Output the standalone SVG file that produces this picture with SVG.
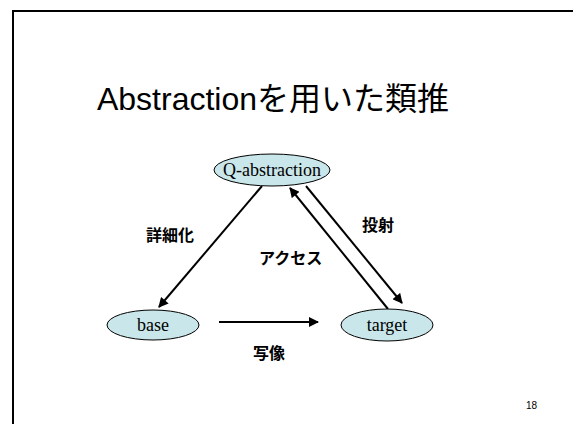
<svg xmlns="http://www.w3.org/2000/svg" width="573" height="424" viewBox="0 0 573 424">
<style>
.node ellipse{fill:#c9e6ea;stroke:#000;stroke-width:1}
.node text{font-family:"Liberation Serif","Noto Serif CJK JP",serif;font-size:18px;text-anchor:middle;fill:#000}
.edge line{stroke:#000;stroke-width:2;marker-end:url(#ah)}
.lbl{font-family:"Liberation Sans","Noto Sans CJK JP",sans-serif;font-size:16px;font-weight:bold;fill:#000}
</style>
<defs>
<marker id="ah" viewBox="0 0 10 10" refX="9" refY="5" markerWidth="5.5" markerHeight="5" orient="auto" markerUnits="strokeWidth">
<path d="M0,0 L10,5 L0,10 z" fill="#000"/>
</marker>
</defs>
<rect x="0" y="0" width="573" height="424" fill="#fff"/>
<path d="M13,424 V11 H573" fill="none" stroke="#000" stroke-width="2"/>
<text x="273" y="110" font-family="'Liberation Sans','Noto Sans CJK JP',sans-serif" font-size="32" text-anchor="middle">Abstractionを用いた類推</text>
<g id="connectors" class="edge">
<line x1="262" y1="186" x2="159" y2="307"/>
<line x1="388" y1="309" x2="290" y2="188"/>
<line x1="306" y1="186" x2="402" y2="303"/>
<line x1="219" y1="322" x2="318" y2="322"/>
</g>
<g id="q-abstraction" class="node">
<ellipse cx="272" cy="170" rx="58" ry="16"/>
<text x="272" y="176">Q-abstraction</text>
</g>
<g id="base" class="node">
<ellipse cx="153" cy="325" rx="46" ry="15"/>
<text x="153" y="331">base</text>
</g>
<g id="target" class="node">
<ellipse cx="387" cy="325" rx="46" ry="16"/>
<text x="387" y="331">target</text>
</g>
<g id="labels">
<text class="lbl" x="146" y="241">詳細化</text>
<text class="lbl" x="259" y="264">アクセス</text>
<text class="lbl" x="362" y="231">投射</text>
<text class="lbl" x="253" y="359">写像</text>
</g>
<text x="526" y="409" font-family="'Liberation Sans',sans-serif" font-size="10">18</text>
</svg>
